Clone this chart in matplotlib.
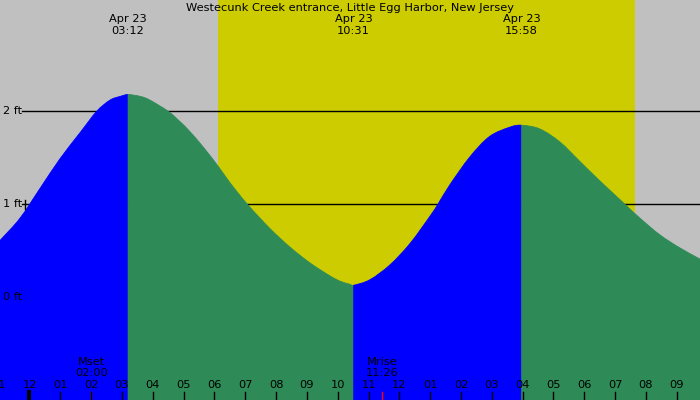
"""
    Tide chart for Westecunk Creek entrance, Apr 23
"""

import numpy as np
import matplotlib
matplotlib.use("Agg")
import matplotlib.pyplot as plt
from matplotlib.path import Path
from matplotlib.patches import PathPatch

# tide height readings (hours after midnight Apr 23, feet)
tide_hours = [-0.96, -0.31, 0.34, 0.99, 1.64, 2.18, 2.61, 2.94, 3.20,
              3.60, 3.91, 4.50, 4.88, 5.21, 5.65, 6.12, 6.51, 7.07, 7.80, 8.45,
              9.10, 9.75, 10.10, 10.40, 10.52,
              11.05, 11.70, 12.35, 12.99, 13.25, 13.64, 14.29, 14.93, 15.59, 15.97,
              16.56, 17.21, 17.86, 18.51, 19.16, 19.32, 19.81, 20.46, 21.11, 21.76]
tide_feet = [0.61, 0.85, 1.17, 1.49, 1.77, 2.00, 2.12, 2.16, 2.18,
             2.16, 2.12, 2.00, 1.89, 1.78, 1.61, 1.41, 1.23, 1.00, 0.74, 0.54,
             0.37, 0.23, 0.17, 0.14, 0.13,
             0.19, 0.35, 0.58, 0.87, 1.00, 1.21, 1.51, 1.73, 1.83, 1.85,
             1.81, 1.67, 1.46, 1.25, 1.05, 1.00, 0.85, 0.67, 0.53, 0.41]

# high / low tide events
event_times = ["03:12", "10:31", "15:58"]
event_date = "Apr 23"
segment_colors = ["#0000ff", "#2e8b57", "#0000ff", "#2e8b57"]

# daylight
sunrise, sunset = "06:07", "19:39"

# moon events
moon_names = ["Mset", "Mrise"]
moon_times = ["02:00", "11:26"]

ft_levels = [1, 2]
hour_ticks = list(range(-1, 22))

title = "Westecunk Creek entrance, Little Egg Harbor, New Jersey"


def to_hours(s):
    hh, mm = s.split(":")
    return int(hh) + int(mm) / 60.0


X_MIN, X_MAX = -0.957, 21.755
Y_MIN, Y_MAX = -1.104, 3.197
FS = 8.2

plt.rcParams['font.family'] = ['DejaVu Sans']
fig = plt.figure(figsize=(7, 4), dpi=100)
fig.patch.set_facecolor("#c0c0c0")
ax = fig.add_axes([0, 0, 1, 1])
ax.set_facecolor("#c0c0c0")
ax.set_xlim(X_MIN, X_MAX)
ax.set_ylim(Y_MIN, Y_MAX)
ax.axis("off")

ax.axvspan(to_hours(sunrise), to_hours(sunset), color="#cccc00", lw=0, zorder=1)

# level lines
px = (X_MAX - X_MIN) / 700
for lv in ft_levels:
    ax.plot([X_MIN + 22 * px, X_MAX], [lv, lv], color="black", lw=1, zorder=2)
    ax.text(X_MIN + 3 * px, lv, "%d ft" % lv, fontsize=FS,
            ha="left", va="center", zorder=6)
ax.text(X_MIN + 3 * px, 0, "0 ft", fontsize=FS, ha="left", va="center", zorder=6)
ax.plot([X_MIN + 25 * px] * 2, [0.95, 1.05], color="black", lw=1, zorder=6)

# tide fill, coloured by rising / falling (smooth curve through the readings)
t = np.array(tide_hours)
h = np.array(tide_feet)
pts = np.column_stack([t, h])
ext = np.vstack([2 * pts[0] - pts[1], pts, 2 * pts[-1] - pts[-2]])
c1 = ext[1:-2] + (ext[2:-1] - ext[:-3]) / 6.0
c2 = ext[2:-1] - (ext[3:] - ext[1:-2]) / 6.0

bounds = [t[0]] + [to_hours(e) for e in event_times] + [t[-1]]
idx = [int(np.argmin(np.abs(t - b))) for b in bounds]
for i, col in enumerate(segment_colors):
    a, b = idx[i], idx[i + 1]
    verts = [pts[a]]
    codes = [Path.MOVETO]
    for k in range(a, b):
        verts += [c1[k], c2[k], pts[k + 1]]
        codes += [Path.CURVE4] * 3
    verts += [(pts[b][0], Y_MIN), (pts[a][0], Y_MIN), pts[a]]
    codes += [Path.LINETO, Path.LINETO, Path.CLOSEPOLY]
    ax.add_patch(PathPatch(Path(verts, codes), facecolor=col, edgecolor=col,
                           lw=0.6, zorder=3))

# top labels
ax.text(0.5, 1 - 8 / 400, title, transform=ax.transAxes, fontsize=FS,
        ha="center", va="center", zorder=6)
xt = ax.get_xaxis_transform()
for e in event_times:
    ax.text(to_hours(e), 1 - 19 / 400, event_date, transform=xt, fontsize=FS,
            ha="center", va="center", zorder=6)
    ax.text(to_hours(e), 1 - 31 / 400, e, transform=xt, fontsize=FS,
            ha="center", va="center", zorder=6)

# moon labels
for name, tm in zip(moon_names, moon_times):
    ax.text(to_hours(tm), 1 - 362 / 400, name, transform=xt, fontsize=FS,
            ha="center", va="center", zorder=6)
    ax.text(to_hours(tm), 1 - 373.5 / 400, tm, transform=xt, fontsize=FS,
            ha="center", va="center", zorder=6)
    ax.plot([to_hours(tm)] * 2, [0, 8 / 400], transform=xt, color="red", lw=1, zorder=6)

# hour axis
for hr in hour_ticks:
    lab = "%02d" % ((hr % 12) or 12)
    ax.text(hr, 1 - 385.5 / 400, lab, transform=xt, fontsize=FS,
            ha="center", va="center", zorder=6)
    ax.plot([hr, hr], [0, 8 / 400], transform=xt, color="black",
            lw=3 if hr == 0 else 1, zorder=6)

fig.savefig("out.png", dpi=100, facecolor=fig.get_facecolor())
